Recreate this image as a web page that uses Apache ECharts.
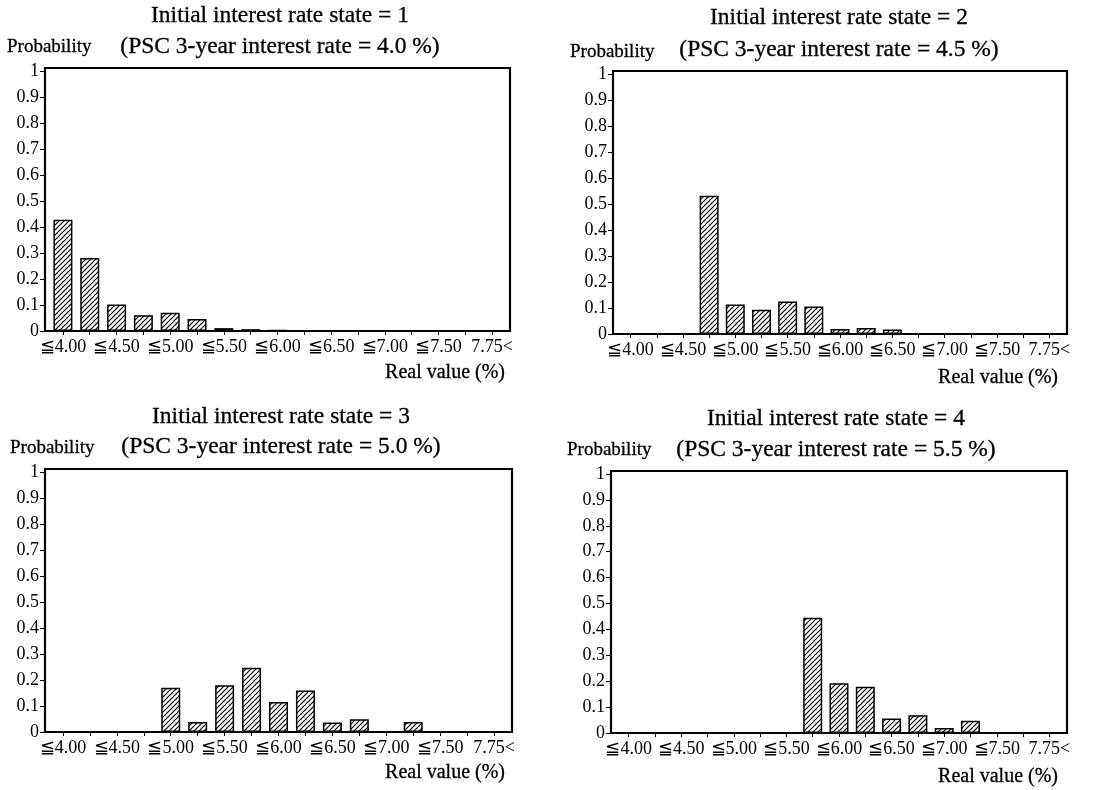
<!DOCTYPE html>
<html>
<head>
<meta charset="utf-8">
<script src="https://cdn.jsdelivr.net/npm/echarts@6/dist/echarts.min.js"></script>
<style>
  html, body { margin: 0; padding: 0; background: #fff; }
  #chart { width: 1109px; height: 790px; }
</style>
</head>
<body>
<div id="chart"></div>
<script>
// categories of the real value (%)
const categories = ['≦4.00', '≦4.25', '≦4.50', '≦4.75', '≦5.00', '≦5.25', '≦5.50', '≦5.75', '≦6.00',
  '≦6.25', '≦6.50', '≦6.75', '≦7.00', '≦7.25', '≦7.50', '≦7.75', '7.75<'];

const rateStates = [1, 2, 3, 4];
const pscRates = ['4.0', '4.5', '5.0', '5.5'];

// probabilities
const probState1 = [0.428, 0.281, 0.102, 0.061, 0.070, 0.046, 0.011, 0.007, 0.003, 0, 0, 0, 0, 0, 0, 0, 0];
const probState2 = [0, 0, 0, 0.532, 0.113, 0.093, 0.125, 0.106, 0.019, 0.023, 0.017, 0, 0, 0, 0, 0, 0];
const probState3 = [0, 0, 0, 0, 0.170, 0.038, 0.180, 0.247, 0.115, 0.160, 0.037, 0.049, 0.002, 0.038, 0, 0, 0];
const probState4 = [0, 0, 0, 0, 0, 0, 0, 0.445, 0.192, 0.179, 0.056, 0.069, 0.019, 0.047, 0, 0, 0];

// layout of the four panels (frame box, text anchors)
const panels = [
  { values: probState1, frame: [45, 68, 510, 331], titleX: 280, t1Y: 16, t2Y: 47, probX: 7, probY: 47, realX: 505, realY: 373 },
  { values: probState2, frame: [613, 71, 1067, 334], titleX: 839, t1Y: 18, t2Y: 50, probX: 570, probY: 52, realX: 1058, realY: 378 },
  { values: probState3, frame: [45, 469, 512, 732], titleX: 281, t1Y: 417, t2Y: 447, probX: 10, probY: 448, realX: 505, realY: 773 },
  { values: probState4, frame: [611, 471, 1067, 733], titleX: 836, t1Y: 419, t2Y: 450, probX: 567, probY: 450, realX: 1058, realY: 777 }
];

const serif = '"Liberation Serif", "Times New Roman", serif';

// diagonal hatch fill
const hatch = document.createElement('canvas');
hatch.width = hatch.height = 5;
const hc = hatch.getContext('2d');
hc.fillStyle = '#fff';
hc.fillRect(0, 0, 5, 5);
hc.strokeStyle = '#000';
hc.lineWidth = 1.2;
hc.beginPath();
hc.moveTo(0, 5); hc.lineTo(5, 0);
hc.moveTo(-1, 1); hc.lineTo(1, -1);
hc.moveTo(4, 6); hc.lineTo(6, 4);
hc.stroke();

const chart = echarts.init(document.getElementById('chart'));

const grids = [], xAxes = [], yAxes = [], series = [], graphics = [];

const txt = (x, y, text, size, align) => ({
  type: 'text', x: x, y: y,
  style: { text: text, font: size + 'px ' + serif, fill: '#000', stroke: '#000', lineWidth: 0.3, textAlign: align, textVerticalAlign: 'middle' }
});

panels.forEach((p, i) => {
  const [x0, y0, x1, y1] = p.frame;
  grids.push({ left: x0 + 4.5, width: x1 - x0 - 9, top: y0 + 3, height: y1 - y0 - 3 });

  xAxes.push({
    type: 'category', gridIndex: i, data: categories,
    axisLine: { show: false },
    axisTick: { show: true, interval: 0, alignWithLabel: true, length: 4, lineStyle: { color: '#000' } },
    axisLabel: { interval: 1, margin: 7, color: '#000', fontFamily: serif, fontSize: 18 },
    splitLine: { show: false }
  });

  yAxes.push({
    type: 'value', gridIndex: i, min: 0, max: 1, interval: 0.1, offset: 4.5,
    axisLine: { show: false },
    axisTick: { show: true, length: 5, lineStyle: { color: '#000' } },
    axisLabel: { margin: 6, color: '#000', fontFamily: serif, fontSize: 18 },
    splitLine: { show: false }
  });

  series.push({
    type: 'bar', xAxisIndex: i, yAxisIndex: i, data: p.values, barWidth: 19,
    itemStyle: { color: { image: hatch, repeat: 'repeat' }, borderColor: '#000', borderWidth: 1.5 },
    silent: true
  });

  graphics.push({
    type: 'rect', z: 100, silent: true,
    shape: { x: x0, y: y0, width: x1 - x0, height: y1 - y0 },
    style: { fill: null, stroke: '#000', lineWidth: 2.2 }
  });
  graphics.push(txt(p.titleX, p.t1Y, 'Initial interest rate state = ' + rateStates[i], 23.5, 'center'));
  graphics.push(txt(p.titleX, p.t2Y, '(PSC 3-year interest rate = ' + pscRates[i] + ' %)', 23.5, 'center'));
  graphics.push(txt(p.probX, p.probY, 'Probability', 19, 'left'));
  graphics.push(txt(p.realX, p.realY, 'Real value (%)', 20, 'right'));
});

chart.setOption({
  animation: false,
  backgroundColor: '#fff',
  grid: grids,
  xAxis: xAxes,
  yAxis: yAxes,
  series: series,
  graphic: graphics
});
</script>
</body>
</html>
